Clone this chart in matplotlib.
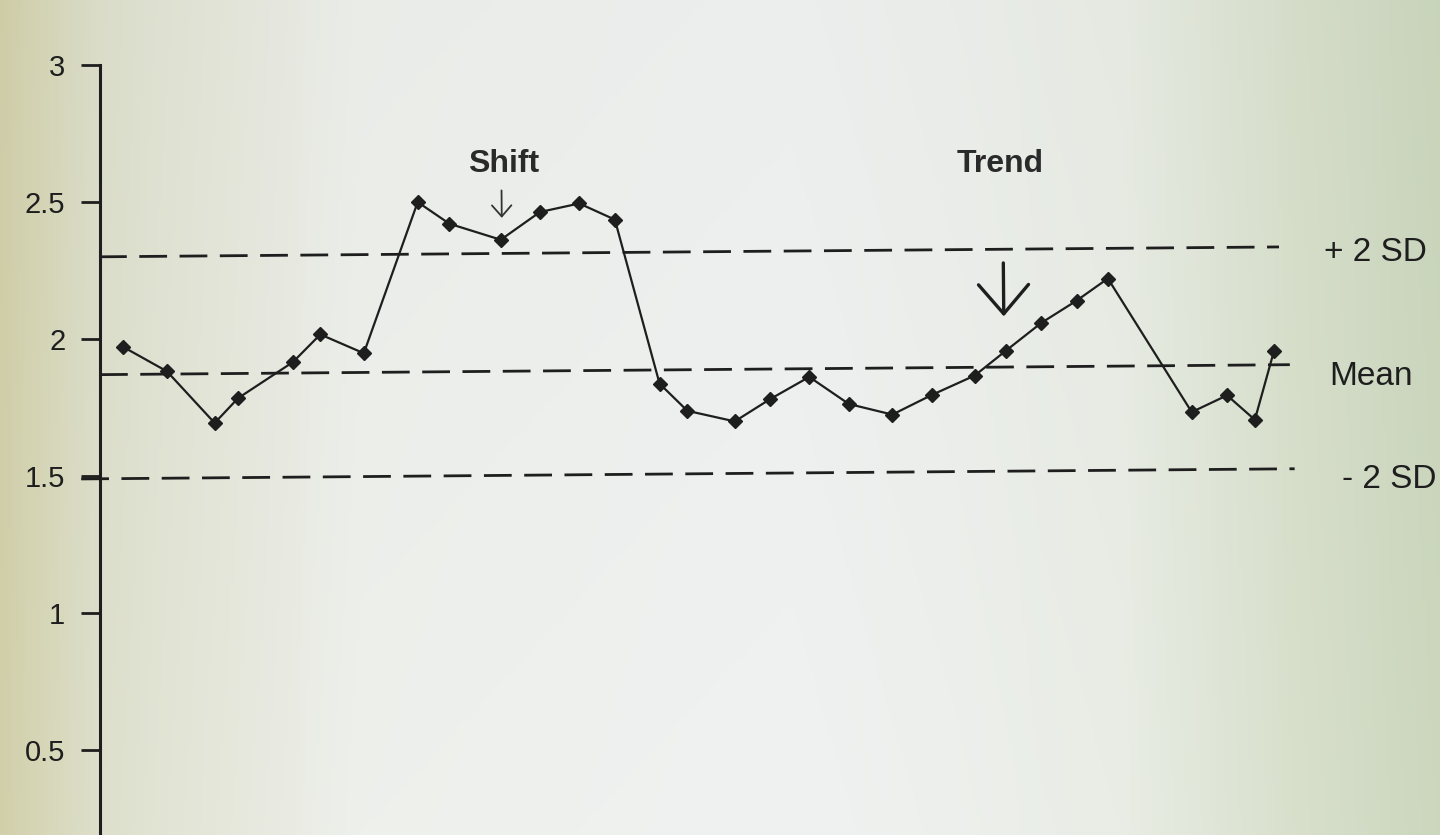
import numpy as np
import matplotlib.pyplot as plt
import matplotlib.transforms as mtransforms

# control chart values (day position, measured value)
days = [0.6, 1.7, 2.9, 3.5, 4.9, 5.6, 6.7, 8.1, 8.9, 10.2,
        11.2, 12.2, 13.1, 14.2, 14.9, 16.1, 17.0, 18.0, 19.0, 20.1,
        21.1, 22.2, 23.0, 23.9, 24.8, 25.6, 27.7, 28.6, 29.3, 29.8]
values = [1.97, 1.88, 1.69, 1.78, 1.91, 2.01, 1.94, 2.49, 2.41, 2.35,
          2.45, 2.48, 2.42, 1.82, 1.72, 1.68, 1.76, 1.84, 1.74, 1.70,
          1.77, 1.84, 1.93, 2.03, 2.11, 2.19, 1.70, 1.76, 1.67, 1.92]

plus_2sd = 2.30
mean = 1.87
minus_2sd = 1.49

yticks = [0.5, 1, 1.5, 2, 2.5, 3]
ytick_labels = ["0.5", "1", "1.5", "2", "2.5", "3"]

plt.rcParams["font.family"] = ["Liberation Sans", "DejaVu Sans"]
ink = "#1e1e1e"

fig = plt.figure(figsize=(14.4, 8.35), dpi=100)

# scanned-paper background: yellowish left, white middle, greenish right
bg = fig.add_axes([0, 0, 1, 1])
xs = np.linspace(0, 1, 400)
stops_x = [0.0, 0.07, 0.25, 0.55, 0.78, 0.9, 1.0]
stops_c = np.array([[210, 208, 170], [222, 224, 205], [238, 240, 236],
                    [240, 242, 242], [233, 237, 229], [216, 224, 204],
                    [204, 215, 190]]) / 255.0
row = np.stack([np.interp(xs, stops_x, stops_c[:, k]) for k in range(3)], axis=-1)
img = np.repeat(row[None, :, :], 200, axis=0)
shade = np.linspace(0.985, 1.0, 200)[:, None, None]
img = np.clip(img * shade, 0, 1)
bg.imshow(img, aspect="auto", extent=[0, 1, 0, 1])
bg.axis("off")

ax = fig.add_axes([0, 0, 1, 1])
ax.patch.set_alpha(0)
px_per_day = 39.4
ax.set_xlim(-100 / px_per_day, 1340 / px_per_day)
ax.set_ylim(0.19, 3 + 65 / 274)

# the scanned page is turned slightly: tilt the drawing the same way
rot = ax.transData + mtransforms.Affine2D().rotate_deg_around(100, 460, 0.48)

# reference lines
dash = dict(color=ink, lw=2.0, linestyle=(0, (10, 4.5)), transform=rot)
ax.plot([0, 29.95], [plus_2sd, plus_2sd], **dash)
ax.plot([0, 30.2], [mean, mean], **dash)
ax.plot([-0.5, 30.3], [minus_2sd, minus_2sd], **dash)

# data
ax.plot(days, values, color=ink, lw=1.6, marker="D", markersize=7,
        markerfacecolor=ink, markeredgecolor=ink, zorder=3, transform=rot)

# right-hand labels
ax.text(31.1, plus_2sd - 0.02, "+ 2 SD", fontsize=24, color=ink, va="center",
        transform=rot)
ax.text(31.2, mean - 0.045, "Mean", fontsize=24, color=ink, va="center",
        transform=rot)
ax.text(31.5, minus_2sd - 0.04, "- 2 SD", fontsize=24, color=ink, va="center",
        transform=rot)

# annotations
ax.text(10.28, 2.625, "Shift", fontsize=23, color="#2a2a2a", weight="bold",
        ha="center", va="center", transform=rot)
ax.text(22.9, 2.61, "Trend", fontsize=23, color="#2a2a2a", weight="bold",
        ha="center", va="center", transform=rot)
ax.annotate("", xy=(10.23, 2.43), xytext=(10.23, 2.53),
            xycoords=rot, textcoords=rot,
            arrowprops=dict(arrowstyle="->,head_length=0.8,head_width=0.7",
                            color="#333333", lw=1.3, shrinkA=0, shrinkB=0,
                            mutation_scale=10))
ax.annotate("", xy=(22.95, 2.055), xytext=(22.95, 2.25),
            xycoords=rot, textcoords=rot,
            arrowprops=dict(arrowstyle="->,head_length=2.1,head_width=1.8",
                            color=ink, lw=2.4, shrinkA=0, shrinkB=0,
                            mutation_scale=10))

# axis styling
for side in ["top", "right", "bottom"]:
    ax.spines[side].set_visible(False)
ax.spines["left"].set_position(("data", 0))
ax.spines["left"].set_bounds(0.19, 3)
ax.spines["left"].set_linewidth(2.2)
ax.spines["left"].set_color(ink)
ax.set_xticks([])
ax.set_yticks(yticks)
ax.set_yticklabels(ytick_labels)
ax.tick_params(axis="y", direction="out", length=14, width=2, color=ink,
               labelsize=21, labelcolor=ink, pad=11)

fig.savefig("out.png", dpi=100)
